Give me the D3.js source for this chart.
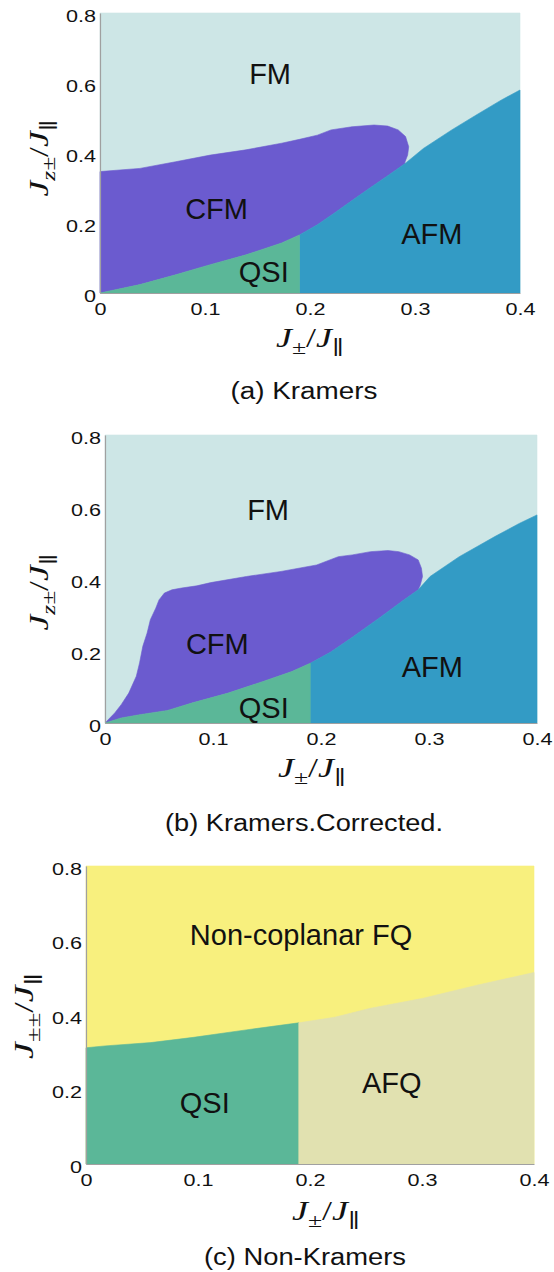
<!DOCTYPE html>
<html>
<head>
<meta charset="utf-8">
<script src="https://cdn.jsdelivr.net/npm/d3@7"></script>
<style>
body { margin:0; background:#fff; }
svg text { font-family: "Liberation Sans", Arial, Helvetica, sans-serif; fill:#111; }
</style>
</head>
<body>
<svg id="chart" width="554" height="1272"></svg>
<script>
'use strict';

// axes, shared by the three panels
const xTicks = [0, 0.1, 0.2, 0.3, 0.4];
const yTicks = [0, 0.2, 0.4, 0.6, 0.8];
const xDomain = [0, 0.4];
const yDomain = [0, 0.8];

// (a) Kramers : phase boundaries
const cfmTopA = [[0,0.347],[0.038,0.356],[0.072,0.375],[0.105,0.394],[0.139,0.409],[0.173,0.428],
  [0.190,0.439],[0.207,0.451],[0.220,0.466],[0.240,0.475],[0.261,0.480],[0.274,0.477],
  [0.284,0.466],[0.291,0.447],[0.294,0.418],[0.293,0.394],[0.290,0.371]];
const afmUpperA = [[0.4,0.580],[0.382,0.551],[0.358,0.508],[0.335,0.466],[0.308,0.413],[0.291,0.371]];
const afmLowerA = [[0.291,0.371],[0.274,0.335],[0.257,0.300],[0.240,0.264],[0.223,0.228],
  [0.207,0.195],[0.190,0.166]];
const qsiTopA = [[0,0],[0.038,0.024],[0.072,0.052],[0.105,0.081],[0.139,0.109],[0.173,0.143],[0.190,0.166]];
const qsiEdgeA = 0.19;

// (b) Kramers.Corrected.
const cfmTopB = [[0,0],[0.009,0.028],[0.015,0.051],[0.022,0.083],[0.029,0.130],[0.032,0.167],
  [0.035,0.213],[0.039,0.250],[0.042,0.287],[0.047,0.319],[0.050,0.342],[0.055,0.361],
  [0.062,0.370],[0.071,0.375],[0.085,0.381],[0.098,0.390],[0.131,0.407],[0.163,0.421],
  [0.196,0.439],[0.216,0.462],[0.229,0.467],[0.246,0.476],[0.262,0.479],[0.272,0.476],
  [0.282,0.467],[0.290,0.453],[0.293,0.430],[0.294,0.407],[0.292,0.384],[0.290,0.370]];
const afmUpperB = [[0.4,0.578],[0.384,0.555],[0.361,0.518],[0.328,0.462],[0.301,0.407],[0.290,0.370]];
const afmLowerB = [[0.290,0.370],[0.275,0.338],[0.255,0.294],[0.229,0.238],[0.209,0.197],[0.190,0.166]];
const qsiTopB = [[0,0],[0.015,0.014],[0.032,0.023],[0.058,0.035],[0.081,0.056],[0.114,0.083],
  [0.147,0.116],[0.173,0.143],[0.190,0.166]];
const qsiEdgeB = 0.19;

// (c) Non-Kramers
const fqBottomC = [[0,0.312],[0.017,0.317],[0.058,0.326],[0.096,0.340],[0.143,0.360],[0.190,0.379],
  [0.222,0.394],[0.254,0.418],[0.301,0.445],[0.349,0.480],[0.4,0.514]];
const qsiEdgeC = 0.19;

// phase names and where they are written (data units)
const labelsA = [["FM",0.162,0.626],["CFM",0.111,0.240],["QSI",0.156,0.060],["AFM",0.316,0.171]];
const labelsB = [["FM",0.151,0.594],["CFM",0.104,0.222],["QSI",0.147,0.044],["AFM",0.303,0.158]];
const labelsC = [["Non-coplanar FQ",0.192,0.617],["QSI",0.106,0.164],["AFQ",0.273,0.218]];

const captions = ["(a)  Kramers", "(b) Kramers.Corrected.", "(c) Non-Kramers"];

const col = {FM:"#cde6e6", CFM:"#6b5bcf", AFM:"#339bc5", QSI:"#5bb798", FQ:"#f8f07e", AFQ:"#e1e1b0"};
const frame = [[0,0],[0,0.8],[0.4,0.8],[0.4,0]];

const panels = [
  {box:{l:100,r:520,t:13,b:293}, xLab:[310,342], yLab:[40,158], cap:[304,391], capLen:147,
   xLen:68, yLen:77, ySub:"z\u00b1", labels:labelsA,
   regions:[
     {c:col.FM, pts:frame},
     {c:col.CFM, pts:cfmTopA.concat(afmLowerA, qsiTopA.slice().reverse())},
     {c:col.AFM, pts:afmUpperA.concat(afmLowerA, [[qsiEdgeA,0],[0.4,0]])},
     {c:col.QSI, pts:qsiTopA.concat([[qsiEdgeA,0]])}
   ]},
  {box:{l:105,r:537,t:435,b:723}, xLab:[312,772], yLab:[40,592], cap:[304,823], capLen:278,
   xLen:68, yLen:77, ySub:"z\u00b1", labels:labelsB,
   regions:[
     {c:col.FM, pts:frame},
     {c:col.CFM, pts:cfmTopB.concat(afmLowerB, qsiTopB.slice().reverse())},
     {c:col.AFM, pts:afmUpperB.concat(afmLowerB, [[qsiEdgeB,0],[0.4,0]])},
     {c:col.QSI, pts:qsiTopB.concat([[qsiEdgeB,0]])}
   ]},
  {box:{l:86,r:534,t:866,b:1164}, xLab:[326,1215], yLab:[25,1016], cap:[305,1257], capLen:202,
   xLen:68, yLen:86, ySub:"\u00b1\u00b1", labels:labelsC,
   regions:[
     {c:col.FQ, pts:frame},
     {c:col.QSI, pts:[[0,0]].concat(fqBottomC.filter(p => p[0] <= qsiEdgeC), [[qsiEdgeC,0]])},
     {c:col.AFQ, pts:fqBottomC.filter(p => p[0] >= qsiEdgeC).concat([[0.4,0],[qsiEdgeC,0]])}
   ]}
];

const svg = d3.select("#chart");
const fmtTick = d => d === 0 ? "0" : d3.format(".1f")(d);

function stretch(sel, k) {
  sel.each(function() {
    const w = this.getComputedTextLength();
    d3.select(this).attr("textLength", w * k).attr("lengthAdjust", "spacingAndGlyphs");
  });
}

function mathText(g, parts, size) {
  // parts: [text, isSub, isItalic]
  const t = g.append("text")
      .attr("text-anchor", "middle")
      .style("font-family", "'Liberation Serif','DejaVu Serif',serif")
      .style("font-size", size + "px");
  let down = false;
  parts.forEach(p => {
    const ts = t.append("tspan").text(p[0])
        .style("font-style", p[2] ? "italic" : "normal");
    if (p[1]) {
      ts.style("font-size", (size * 0.72) + "px");
      if (!down) { ts.attr("dy", size * 0.25); down = true; }
    } else if (down) {
      ts.attr("dy", -size * 0.25); down = false;
    }
  });
  return t;
}

panels.forEach((p, i) => {
  const b = p.box;
  const x = d3.scaleLinear().domain(xDomain).range([b.l, b.r]);
  const y = d3.scaleLinear().domain(yDomain).range([b.b, b.t]);
  const g = svg.append("g");

  const line = d3.line().x(d => x(d[0])).y(d => y(d[1])).curve(d3.curveLinearClosed);
  g.selectAll("path.region")
    .data(p.regions)
    .enter()
    .append("path")
    .attr("class", "region")
    .attr("d", d => line(d.pts))
    .attr("fill", d => d.c)
    .attr("stroke", d => d.c)
    .attr("stroke-width", 0.6);

  g.selectAll("text.phase")
    .data(p.labels)
    .enter()
    .append("text")
    .attr("class", "phase")
    .attr("x", d => x(d[1]))
    .attr("y", d => y(d[2]) + 29 * 0.36)
    .attr("text-anchor", "middle")
    .style("font-size", "29px")
    .text(d => d[0]);

  const xa = g.append("g")
    .attr("transform", "translate(0," + b.b + ")")
    .call(d3.axisBottom(x).tickValues(xTicks).tickFormat(fmtTick).tickSize(0).tickSizeOuter(0).tickPadding(11));
  const ya = g.append("g")
    .attr("transform", "translate(" + b.l + ",0)")
    .call(d3.axisLeft(y).tickValues(yTicks).tickFormat(fmtTick).tickSize(0).tickSizeOuter(0).tickPadding(4));
  [xa, ya].forEach(a => {
    a.select(".domain").attr("stroke", "#a0a0a0").attr("stroke-width", 1.2);
    a.selectAll("text").style("font-family", "'Liberation Sans',Arial,sans-serif")
      .style("font-size", "16px").attr("fill", "#111");
  });
  ya.selectAll("text").attr("dy", "0.5em");
  stretch(xa.selectAll("text"), 1.35);
  stretch(ya.selectAll("text"), 1.35);

  // axis names
  const xl = mathText(g, [["J",0,1],["\u00b1",1,0],["/",0,0],["J",0,1],["\u2225",1,0]], 27);
  xl.attr("x", p.xLab[0]).attr("y", p.xLab[1] + 5)
    .attr("textLength", p.xLen).attr("lengthAdjust", "spacingAndGlyphs");

  const yl = mathText(g, [["J",0,1],[p.ySub,1,p.ySub[0] === "z"],["/",0,0],["J",0,1],["\u2225",1,0]], 27);
  yl.attr("transform", "translate(" + p.yLab[0] + "," + p.yLab[1] + ") rotate(-90)")
    .attr("x", 0).attr("y", 8)
    .attr("textLength", p.yLen).attr("lengthAdjust", "spacingAndGlyphs");

  g.append("text")
    .attr("x", p.cap[0])
    .attr("y", p.cap[1] + 8)
    .attr("text-anchor", "middle")
    .style("font-size", "23px")
    .attr("textLength", p.capLen)
    .attr("lengthAdjust", "spacingAndGlyphs")
    .text(captions[i]);
});
</script>
</body>
</html>
